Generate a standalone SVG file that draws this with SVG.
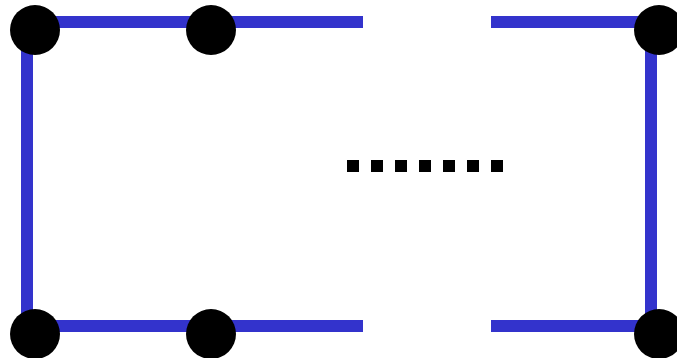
<svg xmlns="http://www.w3.org/2000/svg" width="677" height="358" viewBox="0 0 677 358">
<style>
.edge{stroke:#3333cc;stroke-width:12;fill:none;stroke-linecap:butt}
.node{fill:#000}
.dot{fill:#000}
</style>
<rect width="677" height="358" fill="#fff"/>
<g id="connectors">
<path class="edge" d="M363,22 H27 V326 H363"/>
<path class="edge" d="M491,22 H651 V326 H491"/>
</g>
<g id="ellipsis">
<rect class="dot" x="347" y="160" width="12" height="12"/>
<rect class="dot" x="371" y="160" width="12" height="12"/>
<rect class="dot" x="395" y="160" width="12" height="12"/>
<rect class="dot" x="419" y="160" width="12" height="12"/>
<rect class="dot" x="443" y="160" width="12" height="12"/>
<rect class="dot" x="467" y="160" width="12" height="12"/>
<rect class="dot" x="491" y="160" width="12" height="12"/>
</g>
<g id="n1"><circle class="node" cx="35" cy="30" r="25"/></g>
<g id="n2"><circle class="node" cx="211" cy="30" r="25"/></g>
<g id="n3"><circle class="node" cx="659" cy="30" r="25"/></g>
<g id="n4"><circle class="node" cx="35" cy="334" r="25"/></g>
<g id="n5"><circle class="node" cx="211" cy="334" r="25"/></g>
<g id="n6"><circle class="node" cx="659" cy="334" r="25"/></g>
</svg>
